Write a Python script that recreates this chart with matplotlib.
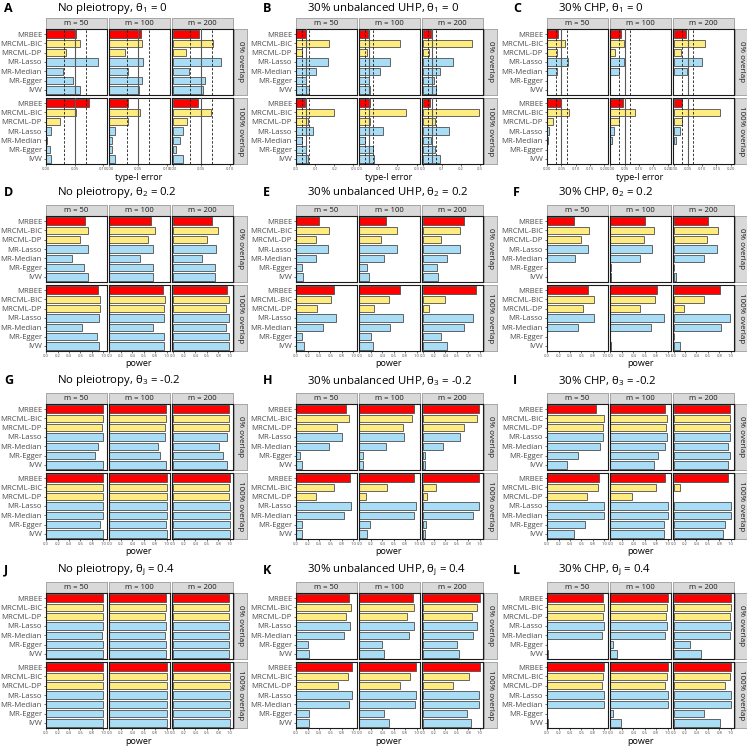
import matplotlib.pyplot as plt
import numpy as np

plt.rcParams['font.family'] = ['Open Sans', 'DejaVu Sans']
plt.rcParams['mathtext.fontset'] = 'custom'
plt.rcParams['mathtext.rm'] = 'Open Sans'
plt.rcParams['mathtext.it'] = 'Open Sans:italic'

methods = ['MRBEE', 'MRCML-BIC', 'MRCML-DP', 'MR-Lasso', 'MR-Median', 'MR-Egger', 'IVW']
bar_colors = ['#FF0000', '#FFEC80', '#FFEC80', '#A8DDF5', '#A8DDF5', '#A8DDF5', '#A8DDF5']
m_labels = ['m = 50', 'm = 100', 'm = 200']
overlap_labels = ['0% overlap', '100% overlap']

# values: [overlap][m][method]
vals_A = [[[0.053, 0.059, 0.035, 0.091, 0.029, 0.047, 0.059],
           [0.055, 0.057, 0.027, 0.059, 0.032, 0.057, 0.052],
           [0.047, 0.071, 0.024, 0.085, 0.029, 0.056, 0.053]],
          [[0.075, 0.053, 0.024, 0.008, 0.002, 0.006, 0.008],
           [0.033, 0.053, 0.033, 0.010, 0.004, 0.004, 0.010],
           [0.044, 0.068, 0.026, 0.018, 0.013, 0.006, 0.018]]]
vals_B = [[[0.050, 0.171, 0.032, 0.168, 0.104, 0.054, 0.068],
           [0.046, 0.214, 0.039, 0.161, 0.107, 0.050, 0.057],
           [0.043, 0.261, 0.032, 0.157, 0.089, 0.061, 0.071]],
          [[0.046, 0.200, 0.061, 0.086, 0.032, 0.054, 0.061],
           [0.057, 0.243, 0.057, 0.125, 0.029, 0.071, 0.075],
           [0.039, 0.296, 0.064, 0.139, 0.046, 0.064, 0.093]]]
vals_C = [[[0.038, 0.064, 0.036, 0.074, 0.033, 0, 0],
           [0.036, 0.048, 0.017, 0.048, 0.031, 0, 0],
           [0.045, 0.110, 0.026, 0.098, 0.048, 0, 0]],
          [[0.050, 0.076, 0.021, 0.005, 0.002, 0, 0],
           [0.045, 0.086, 0.029, 0.012, 0.007, 0, 0],
           [0.031, 0.164, 0.029, 0.021, 0.010, 0, 0]]]
vals_D = [[[0.68, 0.74, 0.60, 0.73, 0.45, 0.67, 0.73],
           [0.73, 0.79, 0.67, 0.77, 0.54, 0.76, 0.77],
           [0.69, 0.79, 0.60, 0.76, 0.52, 0.74, 0.74]],
          [[0.90, 0.95, 0.94, 0.92, 0.63, 0.89, 0.92],
           [0.93, 0.98, 0.95, 0.96, 0.76, 0.95, 0.96],
           [0.95, 0.98, 0.93, 0.99, 0.93, 0.98, 0.99]]]
vals_E = [[[0.40, 0.58, 0.34, 0.55, 0.34, 0.11, 0.12],
           [0.47, 0.65, 0.37, 0.65, 0.43, 0.13, 0.17],
           [0.72, 0.65, 0.33, 0.66, 0.43, 0.25, 0.27]],
          [[0.67, 0.61, 0.36, 0.69, 0.47, 0.11, 0.13],
           [0.71, 0.52, 0.25, 0.76, 0.54, 0.20, 0.24],
           [0.94, 0.39, 0.11, 0.88, 0.73, 0.33, 0.42]]]
vals_F = [[[0.47, 0.73, 0.60, 0.72, 0.49, 0, 0.004],
           [0.60, 0.76, 0.59, 0.73, 0.51, 0.004, 0.004],
           [0.60, 0.77, 0.58, 0.76, 0.54, 0.012, 0.036]],
          [[0.72, 0.82, 0.63, 0.82, 0.54, 0, 0.005],
           [0.81, 0.78, 0.51, 0.93, 0.71, 0, 0.01],
           [0.82, 0.53, 0.18, 0.98, 0.83, 0.01, 0.11]]]
vals_G = [[[0.99, 0.99, 0.98, 0.99, 0.90, 0.86, 0.99],
           [0.99, 0.99, 0.98, 0.98, 0.85, 0.88, 0.99],
           [0.99, 0.99, 0.98, 0.96, 0.81, 0.88, 0.96]],
          [[1.0, 1.0, 1.0, 1.0, 1.0, 0.94, 1.0],
           [1.0, 1.0, 1.0, 1.0, 1.0, 0.99, 1.0],
           [1.0, 0.99, 0.99, 1.0, 1.0, 1.0, 1.0]]]
vals_H = [[[0.88, 0.92, 0.72, 0.80, 0.57, 0.07, 0.10],
           [0.95, 0.92, 0.76, 0.78, 0.47, 0.07, 0.06],
           [0.99, 0.95, 0.73, 0.65, 0.35, 0.05, 0.05]],
          [[0.95, 0.66, 0.34, 0.96, 0.84, 0.10, 0.10],
           [0.96, 0.48, 0.12, 0.99, 0.95, 0.18, 0.13],
           [0.99, 0.24, 0.07, 0.99, 0.89, 0.06, 0.05]]]
vals_I = [[[0.86, 0.99, 0.98, 0.98, 0.93, 0.54, 0.34],
           [0.95, 0.99, 0.98, 0.99, 0.95, 0.83, 0.76],
           [0.98, 0.99, 0.99, 0.99, 0.95, 0.98, 0.95]],
          [[0.90, 0.89, 0.69, 1.0, 1.0, 0.67, 0.47],
           [0.96, 0.80, 0.37, 1.0, 1.0, 0.94, 0.94],
           [0.95, 0.11, 0, 1.0, 1.0, 0.90, 0.86]]]
vals_J = [[[0.99, 0.99, 0.99, 0.99, 0.97, 0.99, 0.99],
           [0.99, 0.99, 0.98, 0.99, 0.98, 0.99, 0.99],
           [0.99, 0.99, 0.99, 0.99, 0.98, 0.99, 0.99]],
          [[1.0, 1.0, 1.0, 1.0, 1.0, 1.0, 1.0],
           [1.0, 1.0, 1.0, 1.0, 1.0, 1.0, 1.0],
           [1.0, 1.0, 1.0, 1.0, 1.0, 1.0, 1.0]]]
vals_K = [[[0.93, 0.96, 0.87, 0.94, 0.83, 0.20, 0.23],
           [0.94, 0.95, 0.84, 0.95, 0.86, 0.40, 0.43],
           [1.0, 0.96, 0.86, 0.96, 0.89, 0.61, 0.64]],
          [[0.98, 0.90, 0.73, 0.98, 0.92, 0.23, 0.23],
           [0.99, 0.88, 0.71, 0.99, 0.98, 0.43, 0.51],
           [1.0, 0.81, 0.54, 0.99, 0.99, 0.77, 0.84]]]
vals_L = [[[0.97, 0.99, 0.98, 0.99, 0.96, 0.005, 0.01],
           [1.0, 0.99, 0.98, 0.99, 0.96, 0.05, 0.12],
           [1.0, 1.0, 0.99, 1.0, 0.98, 0.28, 0.48]],
          [[1.0, 0.98, 0.96, 1.0, 1.0, 0, 0.02],
           [1.0, 0.99, 0.96, 1.0, 1.0, 0.05, 0.19],
           [1.0, 0.99, 0.90, 1.0, 1.0, 0.53, 0.81]]]

panel_letters = list('ABCDEFGHIJKL')
panel_titles = [
    'No pleiotropy, θ${}_1$ = 0', '30% unbalanced UHP, θ${}_1$ = 0', '30% CHP, θ${}_1$ = 0',
    'No pleiotropy, θ${}_2$ = 0.2', '30% unbalanced UHP, θ${}_2$ = 0.2', '30% CHP, θ${}_2$ = 0.2',
    'No pleiotropy, θ${}_3$ = -0.2', '30% unbalanced UHP, θ${}_3$ = -0.2', '30% CHP, θ${}_3$ = -0.2',
    'No pleiotropy, θ${}_\\mathrm{j}$ = 0.4', '30% unbalanced UHP, θ${}_\\mathrm{j}$ = 0.4',
    '30% CHP, θ${}_\\mathrm{j}$ = 0.4']
panel_vals = [vals_A, vals_B, vals_C, vals_D, vals_E, vals_F,
              vals_G, vals_H, vals_I, vals_J, vals_K, vals_L]

alpha_level = 0.05
ci_lo, ci_hi = 0.031, 0.069

W, H = 747, 748
fig = plt.figure(figsize=(W / 100, H / 100), dpi=100)


def add_ax(x, y, w, h):
    return fig.add_axes([x / W, 1 - (y + h) / H, w / W, h / H])


col_x = [0, 250, 501]
letter_x = [4, 263, 513]
# (title y, strip top, facet row 1 top, facet row 2 top)
row_y = [(8, 18, 29, 98), (192, 205, 216, 285), (381, 393, 404, 473), (570, 582, 593, 662)]
facet_left = [45.5, 108.7, 171.9]
facet_w = 61
facet_h = 66
strip_h = 11

for idx, vals in enumerate(panel_vals):
    r, c = divmod(idx, 3)
    x0 = col_x[c]
    ty, st, f1, f2 = row_y[r]
    if r == 0:
        xmax = [0.1, 0.3, 0.2][c]
        ticks = [np.arange(0, 0.101, 0.05), np.arange(0, 0.31, 0.1), np.arange(0, 0.201, 0.05)][c]
        fmt = ['%.2f', '%.1f', '%.2f'][c]
        xlabel = 'type-I error'
    else:
        xmax = 1.0
        ticks = np.arange(0, 1.01, 0.2)
        fmt = '%.1f'
        xlabel = 'power'

    fig.text((letter_x[c]) / W, 1 - ty / H, panel_letters[idx], fontsize=9,
             fontweight='bold', ha='left', va='center')
    fig.text((x0 + 57) / W, 1 - ty / H, panel_titles[idx], fontsize=8.2,
             ha='left', va='center')

    # top strips
    for j in range(3):
        sax = add_ax(x0 + facet_left[j], st, facet_w, strip_h)
        sax.set_facecolor('#D9D9D9')
        sax.set_xticks([])
        sax.set_yticks([])
        for sp in sax.spines.values():
            sp.set_color('#A6A6A6')
            sp.set_linewidth(0.7)
        sax.text(0.5, 0.5, m_labels[j], fontsize=5.5, color='#1A1A1A',
                 ha='center', va='center', transform=sax.transAxes)

    for i, ftop in enumerate([f1, f2]):
        # right strip
        rax = add_ax(x0 + 234, ftop, 13, facet_h)
        rax.set_facecolor('#D9D9D9')
        rax.set_xticks([])
        rax.set_yticks([])
        for sp in rax.spines.values():
            sp.set_color('#A6A6A6')
            sp.set_linewidth(0.7)
        rax.text(0.5, 0.5, overlap_labels[i], fontsize=5.8, color='#1A1A1A', rotation=270,
                 ha='center', va='center', transform=rax.transAxes)

        for j in range(3):
            ax = add_ax(x0 + facet_left[j], ftop, facet_w, facet_h)
            v = vals[i][j]
            y = np.arange(len(methods))
            bars = ax.barh(y, v, height=0.8, color=bar_colors, edgecolor='#4D4D4D',
                           linewidth=0.6, zorder=2)
            for b, val in zip(bars, v):
                if val == 0:
                    b.set_visible(False)
            if r == 0:
                ax.axvline(alpha_level, color='#595959', lw=0.8, zorder=3)
                ax.axvline(ci_lo, color='#1A1A1A', lw=0.6, ls=(0, (3, 2)), zorder=3)
                ax.axvline(ci_hi, color='#1A1A1A', lw=0.6, ls=(0, (3, 2)), zorder=3)
            ax.set_xlim(-0.012 * xmax, 1.055 * xmax)
            ax.set_ylim(len(methods) - 0.45, -0.55)
            for sp in ax.spines.values():
                sp.set_color('#1A1A1A')
                sp.set_linewidth(0.8)
            ax.set_xticks(ticks)
            if i == 1:
                ax.set_xticklabels([fmt % t for t in ticks])
                ax.tick_params(axis='x', length=1.5, width=0.5, labelsize=3, pad=1,
                               colors='#333333', labelcolor='#4D4D4D')
            else:
                ax.tick_params(axis='x', length=0, labelbottom=False)
            if j == 0:
                ax.set_yticks(y)
                ax.set_yticklabels(methods)
                ax.tick_params(axis='y', length=1.5, width=0.5, labelsize=5.6, pad=1,
                               colors='#333333', labelcolor='#4D4D4D')
            else:
                ax.set_yticks([])

    fig.text((x0 + 139) / W, 1 - (f2 + facet_h + 13) / H, xlabel, fontsize=6.5,
             ha='center', va='center')

fig.savefig('out.png', dpi=100)
